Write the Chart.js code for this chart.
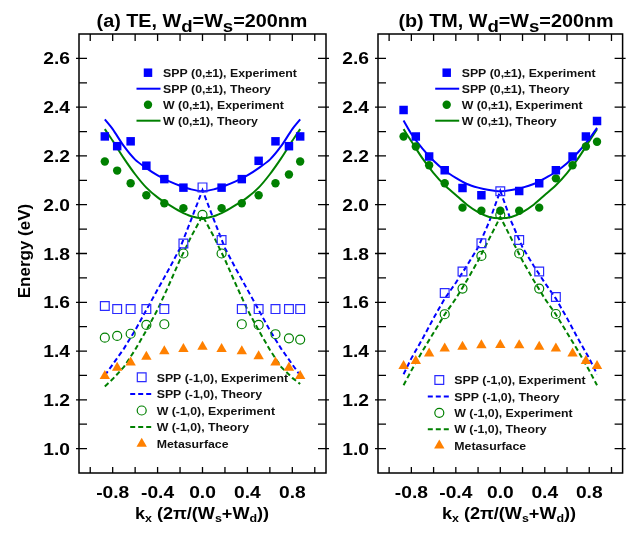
<!DOCTYPE html>
<html>
<head>
<meta charset="utf-8">
<script src="https://cdn.jsdelivr.net/npm/chart.js@4.4.1/dist/chart.umd.min.js"></script>
<style>
  html, body { margin: 0; padding: 0; background: #fff; }
  #wrap { position: relative; width: 630px; height: 533px; }
  canvas { position: absolute; top: 0; }
  #left { left: 0; }
  #right { left: 335px; }
</style>
</head>
<body>
<div id="wrap">
  <canvas id="left" width="335" height="533"></canvas>
  <canvas id="right" width="295" height="533"></canvas>
</div>
<script>
// kx of the measured points, and of the theory curves
const KX_EXP = [-0.87, -0.76, -0.64, -0.50, -0.34, -0.17, 0, 0.17, 0.35, 0.50, 0.65, 0.77, 0.87];
const KX_THEORY = [-0.87, -0.8, -0.7, -0.6, -0.5, -0.4, -0.3, -0.2, -0.1, 0, 0.1, 0.2, 0.3, 0.4, 0.5, 0.6, 0.7, 0.8, 0.87];

// (a) TE
const TE_SPP01_EXP = [2.28, 2.24, 2.26, 2.16, 2.105, 2.07, null, 2.07, 2.105, 2.18, 2.26, 2.24, 2.28];
const TE_W01_EXP = [2.177, 2.14, 2.088, 2.039, 2.006, 1.986, null, 1.986, 2.006, 2.039, 2.088, 2.124, 2.177];
const TE_SPP10_EXP = [1.585, 1.572, 1.572, 1.572, 1.572, 1.841, 2.071, 1.855, 1.572, 1.572, 1.572, 1.572, 1.572];
const TE_W10_EXP = [1.455, 1.462, 1.471, 1.507, 1.51, 1.80, 1.958, 1.80, 1.51, 1.507, 1.469, 1.452, 1.447];
const TE_META = [1.298, 1.332, 1.353, 1.377, 1.399, 1.408, 1.418, 1.408, 1.399, 1.379, 1.353, 1.332, 1.298];
const TE_SPP01_TH = [2.35, 2.31, 2.24, 2.185, 2.15, 2.12, 2.097, 2.078, 2.063, 2.055, 2.063, 2.078, 2.097, 2.12, 2.15, 2.185, 2.24, 2.31, 2.35];
const TE_W01_TH = [2.31, 2.262, 2.19, 2.125, 2.07, 2.03, 2.0, 1.973, 1.953, 1.945, 1.953, 1.973, 2.0, 2.03, 2.07, 2.125, 2.19, 2.262, 2.31];
const TE_SPP10_TH = [1.30, 1.345, 1.41, 1.485, 1.569, 1.652, 1.735, 1.822, 1.94, 2.06, 1.94, 1.822, 1.735, 1.652, 1.569, 1.485, 1.41, 1.345, 1.30];
const TE_W10_TH = [1.255, 1.285, 1.335, 1.405, 1.485, 1.57, 1.67, 1.775, 1.87, 1.955, 1.87, 1.775, 1.67, 1.57, 1.485, 1.405, 1.335, 1.29, 1.265];

// (b) TM
const TM_SPP01_EXP = [2.388, 2.28, 2.198, 2.141, 2.069, 2.039, null, 2.056, 2.088, 2.141, 2.198, 2.28, 2.343];
const TM_W01_EXP = [2.28, 2.239, 2.162, 2.088, 1.988, 1.975, 1.975, 1.975, 1.988, 2.108, 2.162, 2.239, 2.258];
const TM_SPP10_EXP = [null, null, null, 1.638, 1.726, 1.842, 2.055, 1.855, 1.726, 1.622, null, null, null];
const TM_W10_EXP = [null, null, null, 1.551, 1.656, 1.79, 1.958, 1.80, 1.656, 1.552, null, null, null];
const TM_META = [1.339, 1.359, 1.39, 1.41, 1.418, 1.424, 1.425, 1.424, 1.418, 1.41, 1.39, 1.359, 1.339];
const TM_SPP01_TH = [2.345, 2.29, 2.23, 2.18, 2.14, 2.11, 2.085, 2.07, 2.06, 2.055, 2.06, 2.07, 2.085, 2.108, 2.135, 2.17, 2.215, 2.27, 2.315];
const TM_W01_TH = [2.31, 2.26, 2.19, 2.13, 2.08, 2.04, 2.0, 1.97, 1.95, 1.945, 1.95, 1.97, 2.0, 2.04, 2.08, 2.13, 2.19, 2.26, 2.31];
const TM_SPP10_TH = [1.305, 1.37, 1.45, 1.535, 1.615, 1.68, 1.75, 1.825, 1.93, 2.057, 1.93, 1.825, 1.75, 1.68, 1.615, 1.535, 1.45, 1.37, 1.305];
const TM_W10_TH = [1.26, 1.32, 1.40, 1.475, 1.55, 1.615, 1.69, 1.77, 1.86, 1.95, 1.86, 1.77, 1.69, 1.615, 1.55, 1.475, 1.40, 1.32, 1.26];

const LABELS = ['SPP (0,\u00b11), Experiment', 'SPP (0,\u00b11), Theory', 'W (0,\u00b11), Experiment', 'W (0,\u00b11), Theory',
  'SPP (-1,0), Experiment', 'SPP (-1,0), Theory', 'W (-1,0), Experiment', 'W (-1,0), Theory', 'Metasurface'];

const X_TICKS = [-0.8, -0.4, 0, 0.4, 0.8];
const X_MARKS = [-1.0, -0.8, -0.6, -0.4, -0.2, 0, 0.2, 0.4, 0.6, 0.8, 1.0];
const Y_TICKS = [1.0, 1.2, 1.4, 1.6, 1.8, 2.0, 2.2, 2.4, 2.6];
const Y_MINOR = [1.1, 1.3, 1.5, 1.7, 1.9, 2.1, 2.3, 2.5];

const FONT = '"Liberation Sans", Arial, sans-serif';
const BLUE = '#0000ff';
const GREEN = '#008000';
const ORANGE = '#ff8000';
const SX = 1.13; // text in the figure is a bit wider than tall

function zip(xs, ys) {
  const out = [];
  xs.forEach((x, i) => { if (ys[i] !== null) out.push({ x: x, y: ys[i] }); });
  return out;
}

function makeDatasets(p) {
  const exp = (data, style, fill, stroke, r, bw) => ({
    data: zip(KX_EXP, data), showLine: false, pointStyle: style, pointRadius: r, pointHoverRadius: r,
    pointBackgroundColor: fill, pointBorderColor: stroke, pointBorderWidth: bw, order: 0
  });
  const th = (data, color, dash) => ({
    data: zip(KX_THEORY, data), showLine: true, pointRadius: 0, borderColor: color, borderWidth: 2,
    borderDash: dash, tension: dash.length ? 0 : 0.3, fill: false, order: 1
  });
  return [
    exp(p.spp01Exp, 'rect', BLUE, BLUE, 6, 0),
    th(p.spp01Th, BLUE, []),
    exp(p.w01Exp, 'circle', GREEN, GREEN, 4.2, 0),
    th(p.w01Th, GREEN, []),
    exp(p.spp10Exp, 'rect', 'rgba(0,0,0,0)', '#2b2bff', 6.2, 1.2),
    th(p.spp10Th, BLUE, [5, 3]),
    exp(p.w10Exp, 'circle', 'rgba(0,0,0,0)', GREEN, 4.5, 1.2),
    th(p.w10Th, GREEN, [5, 3]),
    exp(p.meta, 'triangle', ORANGE, ORANGE, 6, 0)
  ];
}

function drawRich(ctx, parts, x, y, o) {
  const font = (s) => 'bold ' + s + 'px ' + FONT;
  const sub = o.subSize || o.size;
  let w = 0;
  parts.forEach(p => { ctx.font = font(p[1] ? sub : o.size); w += ctx.measureText(p[0]).width; });
  ctx.save();
  ctx.translate(x, y);
  if (o.rotate) ctx.rotate(o.rotate);
  ctx.scale(o.sx || 1, 1);
  ctx.fillStyle = o.color || '#000';
  ctx.textBaseline = 'alphabetic';
  ctx.textAlign = 'left';
  let cx = o.align === 'center' ? -w / 2 : (o.align === 'right' ? -w : 0);
  parts.forEach(p => {
    ctx.font = font(p[1] ? sub : o.size);
    ctx.fillText(p[0], cx, p[1] ? o.subDy : 0);
    cx += ctx.measureText(p[0]).width;
  });
  ctx.restore();
}

function drawMarker(ctx, ds, x, y) {
  const r = ds.pointRadius;
  ctx.save();
  ctx.fillStyle = ds.pointBackgroundColor;
  ctx.strokeStyle = ds.pointBorderColor;
  ctx.lineWidth = ds.pointBorderWidth;
  ctx.beginPath();
  if (ds.pointStyle === 'rect') {
    const h = r * Math.SQRT1_2;
    ctx.rect(x - h, y - h, 2 * h, 2 * h);
  } else if (ds.pointStyle === 'circle') {
    ctx.arc(x, y, r, 0, Math.PI * 2);
  } else {
    ctx.moveTo(x, y - r);
    ctx.lineTo(x + r * Math.cos(Math.PI / 6), y + r / 2);
    ctx.lineTo(x - r * Math.cos(Math.PI / 6), y + r / 2);
    ctx.closePath();
  }
  ctx.fill();
  if (ds.pointBorderWidth) ctx.stroke();
  ctx.restore();
}

function decorations(cfg) {
  return {
    id: 'decor',
    afterDraw(chart) {
      const ctx = chart.ctx;
      const a = chart.chartArea;
      const xs = chart.scales.x, ys = chart.scales.y;
      ctx.save();
      ctx.strokeStyle = '#000';
      ctx.lineWidth = 1.5;
      ctx.strokeRect(a.left, a.top, a.right - a.left, a.bottom - a.top);
      ctx.lineWidth = 1.3;
      ctx.beginPath();
      X_MARKS.forEach(v => {
        const px = xs.getPixelForValue(v);
        ctx.moveTo(px, a.bottom); ctx.lineTo(px, a.bottom - 6);
        ctx.moveTo(px, a.top); ctx.lineTo(px, a.top + 7);
      });
      Y_TICKS.forEach(v => {
        const py = ys.getPixelForValue(v);
        ctx.moveTo(a.left - 3, py); ctx.lineTo(a.left + 8, py);
        ctx.moveTo(a.right + 3, py); ctx.lineTo(a.right - 8, py);
      });
      Y_MINOR.forEach(v => {
        const py = ys.getPixelForValue(v);
        ctx.moveTo(a.left, py); ctx.lineTo(a.left + 8, py);
        ctx.moveTo(a.right, py); ctx.lineTo(a.right - 8, py);
      });
      ctx.stroke();
      ctx.restore();

      // tick labels
      X_TICKS.forEach(v => {
        drawRich(ctx, [[v.toFixed(1)]], xs.getPixelForValue(v), 497.5, { size: 17, sx: SX, align: 'center' });
      });
      Y_TICKS.forEach(v => {
        drawRich(ctx, [[v.toFixed(1)]], a.left - 9, ys.getPixelForValue(v) + 6, { size: 17, sx: SX, align: 'right' });
      });

      // titles
      drawRich(ctx, [[cfg.tag + ' ' + cfg.mode + ', W'], ['d', true], ['=W'], ['s', true], ['=200nm']],
        cfg.titleX, 26.5, { size: 17.5, subSize: 16.5, subDy: 5, sx: SX, align: 'center' });
      drawRich(ctx, [['k'], ['x', true], [' (2\u03c0/(W'], ['s', true], ['+W'], ['d', true], ['))']],
        cfg.labelX, 519, { size: 16, subSize: 11, subDy: 3, sx: SX, align: 'center' });
      if (cfg.yTitle) {
        drawRich(ctx, [['Energy (eV)']], 30, 251, { size: 17, align: 'center', rotate: -Math.PI / 2 });
      }

      // legends
      const dss = chart.data.datasets;
      cfg.legends.forEach(lg => {
        lg.items.forEach((idx, i) => {
          const y = lg.y + i * lg.dy;
          const ds = dss[idx];
          if (ds.showLine) {
            ctx.save();
            ctx.strokeStyle = ds.borderColor;
            ctx.lineWidth = 2;
            ctx.setLineDash(ds.borderDash);
            ctx.beginPath();
            ctx.moveTo(lg.x - 11.5, y); ctx.lineTo(lg.x + 12.5, y);
            ctx.stroke();
            ctx.restore();
          } else {
            drawMarker(ctx, ds, lg.x, y);
          }
          drawRich(ctx, [[LABELS[idx]]], lg.x + 15, y + 4.2, { size: 11.5, sx: 1.07, color: '#111' });
        });
      });
    }
  };
}

function makeChart(id, p, cfg) {
  return new Chart(document.getElementById(id), {
    type: 'scatter',
    data: { datasets: makeDatasets(p) },
    options: {
      responsive: false,
      animation: false,
      layout: { padding: { top: 34, right: cfg.padRight, bottom: 0, left: 0 } },
      plugins: { legend: { display: false }, tooltip: { enabled: false } },
      scales: {
        x: {
          min: -1.1, max: 1.1,
          grid: { display: false, drawTicks: false },
          border: { display: false },
          ticks: { display: false },
          afterFit: (s) => { s.height = 60; }
        },
        y: {
          min: 0.9, max: 2.7,
          grid: { display: false, drawTicks: false },
          border: { display: false },
          ticks: { display: false },
          afterFit: (s) => { s.width = cfg.yWidth; }
        }
      }
    },
    plugins: [decorations(cfg)]
  });
}

makeChart('left', {
  spp01Exp: TE_SPP01_EXP, w01Exp: TE_W01_EXP, spp10Exp: TE_SPP10_EXP, w10Exp: TE_W10_EXP, meta: TE_META,
  spp01Th: TE_SPP01_TH, w01Th: TE_W01_TH, spp10Th: TE_SPP10_TH, w10Th: TE_W10_TH
}, {
  tag: '(a)', mode: 'TE', yWidth: 79, padRight: 9, titleX: 202, labelX: 202, yTitle: true,
  legends: [
    { x: 148, y: 72.7, dy: 16, items: [0, 1, 2, 3] },
    { x: 141.7, y: 377.3, dy: 16.6, items: [4, 5, 6, 7, 8] }
  ]
});

makeChart('right', {
  spp01Exp: TM_SPP01_EXP, w01Exp: TM_W01_EXP, spp10Exp: TM_SPP10_EXP, w10Exp: TM_W10_EXP, meta: TM_META,
  spp01Th: TM_SPP01_TH, w01Th: TM_W01_TH, spp10Th: TM_SPP10_TH, w10Th: TM_W10_TH
}, {
  tag: '(b)', mode: 'TM', yWidth: 43, padRight: 5, titleX: 171, labelX: 174, yTitle: false,
  legends: [
    { x: 111.7, y: 72.7, dy: 16, items: [0, 1, 2, 3] },
    { x: 104.3, y: 380, dy: 16.4, items: [4, 5, 6, 7, 8] }
  ]
});
</script>
</body>
</html>
